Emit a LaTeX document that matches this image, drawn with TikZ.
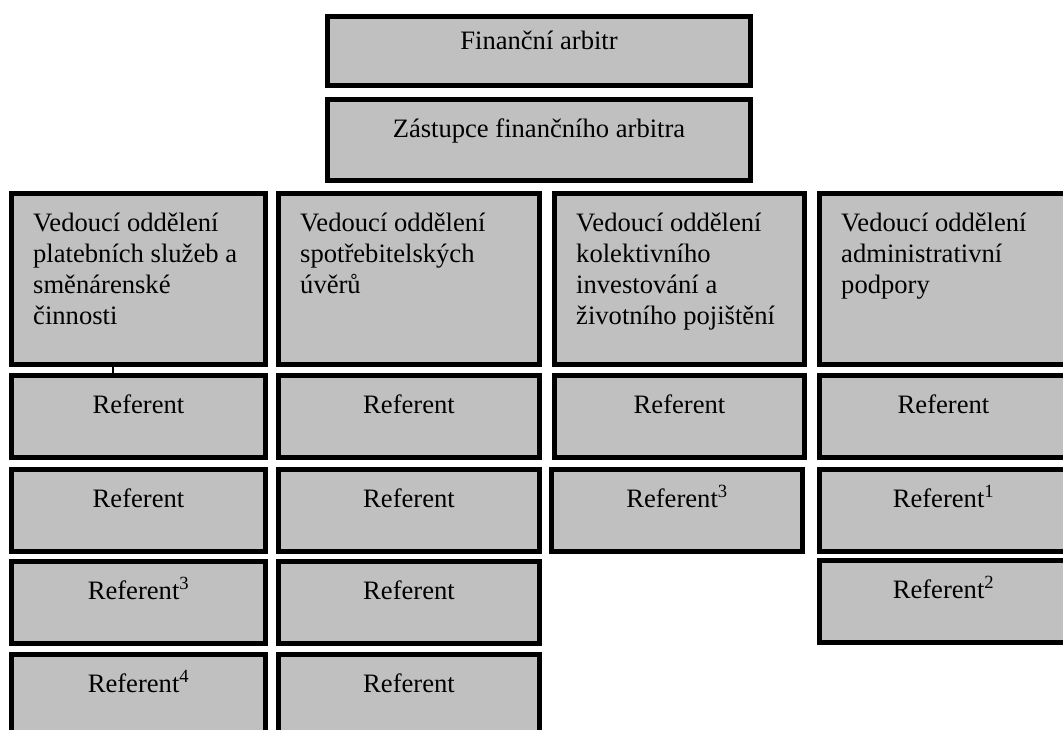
\documentclass[tikz,border=0pt]{standalone}
\usepackage{fontspec}
\setmainfont{Liberation Serif}
\definecolor{boxgray}{RGB}{192,192,192}
\begin{document}
\begin{tikzpicture}[x = 1pt, y = -1pt,
  box/.style = {draw = black, line width = 5pt, fill = boxgray, inner sep = 0pt, outer sep = 2.5pt, anchor = north west},
  headbox/.style = {box, minimum height = 171pt},
  refbox/.style = {box, minimum height = 82pt},
  title/.style = {anchor = base, inner sep = 0pt, yshift = -40pt, font = \fontsize{26.6}{31}\selectfont},
  headtitle/.style = {anchor = base west, inner sep = 0pt, xshift = 24pt, yshift = -40pt, font = \fontsize{26.6}{31}\selectfont}]
\useasboundingbox (0,0) rectangle (1063,729);
\clip (0,0) rectangle (1063,729);
% top
\node[box, minimum width = 423pt, minimum height = 69pt, label = {[title, yshift = 5pt]north:Finanční arbitr}] (fa) at (325,14) {};
\node[box, minimum width = 423pt, minimum height = 81pt, label = {[title]north:Zástupce finančního arbitra}] (zfa) at (325,97) {};
% heads of departments
\node[headbox, minimum width = 254pt, label = {[headtitle]north west:\parbox[t]{230pt}{\raggedright Vedoucí oddělení\\platebních služeb a\\směnárenské\\činnosti}}] (h1) at (9,191) {};
\node[headbox, minimum width = 261pt, label = {[headtitle]north west:\parbox[t]{230pt}{\raggedright Vedoucí oddělení\\spotřebitelských\\úvěrů}}] (h2) at (276,191) {};
\node[headbox, minimum width = 250pt, label = {[headtitle]north west:\parbox[t]{230pt}{\raggedright Vedoucí oddělení\\kolektivního\\investování a\\životního pojištění}}] (h3) at (552,191) {};
\node[headbox, minimum width = 248pt, label = {[headtitle]north west:\parbox[t]{230pt}{\raggedright Vedoucí oddělení\\administrativní\\podpory}}] (h4) at (817,191) {};
% column 1
\node[refbox, minimum width = 254pt, label = {[title]north:Referent}] (r11) at (9,373) {};
\node[refbox, minimum width = 254pt, label = {[title]north:Referent}] (r12) at (9,467) {};
\node[refbox, minimum width = 254pt, label = {[title]north:Referent\textsuperscript{3}}] (r13) at (9,559) {};
\node[refbox, minimum width = 254pt, label = {[title]north:Referent\textsuperscript{4}}] (r14) at (9,652) {};
% column 2
\node[refbox, minimum width = 261pt, label = {[title]north:Referent}] (r21) at (276,373) {};
\node[refbox, minimum width = 261pt, label = {[title]north:Referent}] (r22) at (276,467) {};
\node[refbox, minimum width = 261pt, label = {[title]north:Referent}] (r23) at (276,559) {};
\node[refbox, minimum width = 261pt, label = {[title]north:Referent}] (r24) at (276,652) {};
% column 3
\node[refbox, minimum width = 250pt, label = {[title]north:Referent}] (r31) at (552,373) {};
\node[refbox, minimum width = 251pt, label = {[title]north:Referent\textsuperscript{3}}] (r32) at (549,467) {};
% column 4
\node[refbox, minimum width = 248pt, label = {[title]north:Referent}] (r41) at (817,373) {};
\node[refbox, minimum width = 248pt, label = {[title]north:Referent\textsuperscript{1}}] (r42) at (817,467) {};
\node[refbox, minimum width = 248pt, label = {[title]north:Referent\textsuperscript{2}}] (r43) at (817,558) {};
% small tick
\draw[line width = 1.2pt] ([xshift = 104pt]h1.south west) -- ([xshift = 104pt]r11.north west);
\end{tikzpicture}
\end{document}
